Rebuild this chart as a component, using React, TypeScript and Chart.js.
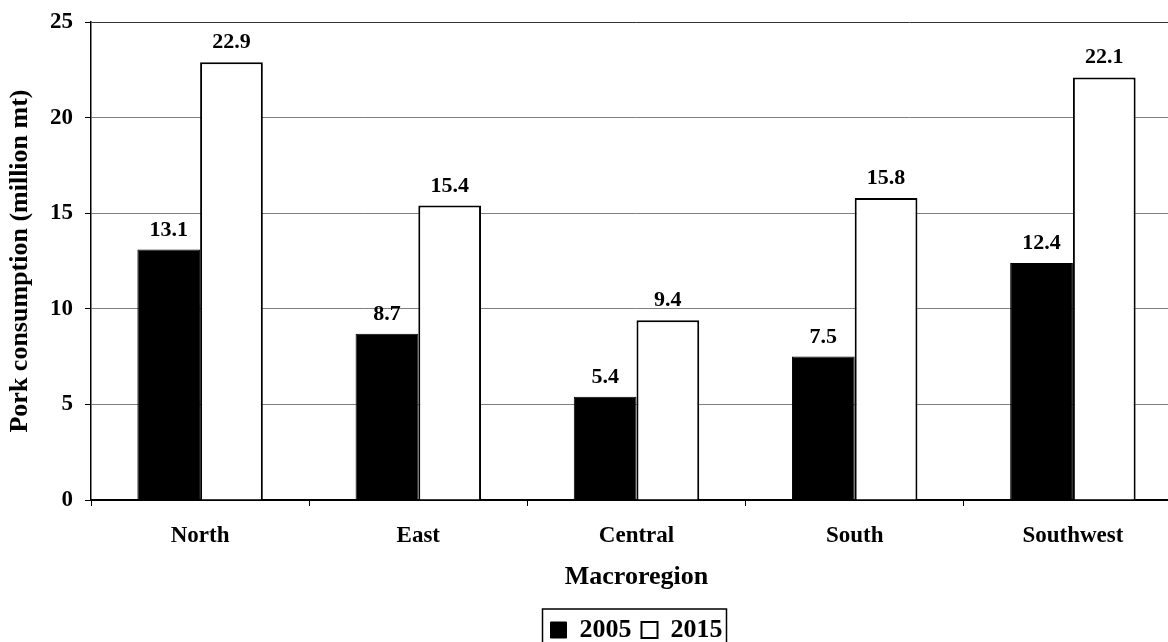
import React, { useEffect, useRef } from "react";
import { Chart, registerables } from "chart.js";

Chart.register(...registerables);

const categories = ["North", "East", "Central", "South", "Southwest"];
const series2005 = [13.1, 8.7, 5.4, 7.5, 12.4];
const series2015 = [22.9, 15.4, 9.4, 15.8, 22.1];
const seriesNames = ["2005", "2015"];
const yTicks = [0, 5, 10, 15, 20, 25];

const FONT = '"Liberation Serif", "Times New Roman", serif';

const dataLabelPlugin = {
  id: "dataLabels",
  afterDatasetsDraw(chart: any) {
    const ctx = chart.ctx;
    ctx.save();
    ctx.font = `bold 22px ${FONT}`;
    ctx.fillStyle = "#000";
    ctx.textAlign = "center";
    ctx.textBaseline = "alphabetic";
    chart.data.datasets.forEach((ds: any, i: number) => {
      const meta = chart.getDatasetMeta(i);
      meta.data.forEach((bar: any, j: number) => {
        ctx.fillText(ds.data[j].toFixed(1), bar.x, bar.y - 14);
      });
    });
    ctx.restore();
  },
};

const legendBoxPlugin = {
  id: "legendBox",
  afterLayout(chart: any) {
    const lg = chart.legend;
    if (lg && chart.chartArea) {
      lg.left = chart.chartArea.left;
      lg.right = chart.chartArea.right;
    }
  },
  afterDraw(chart: any) {
    const lg = chart.legend;
    if (!lg || !lg.legendHitBoxes || !lg.legendHitBoxes.length) return;
    const boxes = lg.legendHitBoxes;
    const left = Math.min(...boxes.map((b: any) => b.left)) - 8;
    const right = Math.max(...boxes.map((b: any) => b.left + b.width)) + 4;
    const top = Math.min(...boxes.map((b: any) => b.top)) - 8;
    const bottom = Math.max(...boxes.map((b: any) => b.top + b.height)) + 8;
    const ctx = chart.ctx;
    ctx.save();
    ctx.strokeStyle = "#000";
    ctx.lineWidth = 1.5;
    ctx.strokeRect(left, top, right - left, bottom - top);
    ctx.restore();
  },
};

export default function App() {
  const ref = useRef<HTMLCanvasElement>(null);
  useEffect(() => {
    document.body.style.overflow = "hidden";
    const chart = new Chart(ref.current!, {
      type: "bar",
      data: {
        labels: categories,
        datasets: [
          {
            label: seriesNames[0],
            data: series2005,
            backgroundColor: "#000",
            borderColor: "#000",
            borderWidth: 1,
          },
          {
            label: seriesNames[1],
            data: series2015,
            backgroundColor: "#fff",
            borderColor: "#000",
            borderWidth: 2,
          },
        ],
      },
      options: {
        animation: false,
        responsive: true,
        maintainAspectRatio: false,
        layout: { padding: { top: 22, right: 4, left: 0, bottom: 0 } },
        datasets: { bar: { barPercentage: 1, categoryPercentage: 0.575 } },
        plugins: {
          legend: {
            position: "bottom",
            labels: {
              font: { family: FONT, size: 26, weight: "bold" },
              color: "#000",
              boxWidth: 16,
              boxHeight: 16,
              padding: 10,
            },
          },
          tooltip: { enabled: false },
        },
        scales: {
          x: {
            offset: true,
            afterFit(scale: any) {
              scale.height = 107;
            },
            grid: {
              offset: true,
              drawOnChartArea: false,
              drawTicks: true,
              tickLength: 6,
              color: "#000",
            },
            border: { color: "#000", width: 2 },
            ticks: {
              font: { family: FONT, size: 23, weight: "bold" },
              color: "#000",
              padding: 16,
            },
            title: {
              display: true,
              text: "Macroregion",
              font: { family: FONT, size: 26, weight: "bold" },
              color: "#000",
              padding: { top: 0, bottom: 14 },
            },
          },
          y: {
            min: 0,
            max: 25,
            afterFit(scale: any) {
              scale.width = 91;
              scale.paddingTop = 0;
              scale.paddingBottom = 0;
            },
            afterBuildTicks(scale: any) {
              scale.ticks = yTicks.map((v) => ({ value: v }));
            },
            grid: {
              color: (c: any) => (c.tick && c.tick.value === 25 ? "#333" : "#808080"),
              lineWidth: 1,
              tickLength: 6,
              tickColor: "#000",
            },
            border: { color: "#000", width: 1.5 },
            ticks: {
              font: { family: FONT, size: 23, weight: "bold" },
              color: "#000",
              padding: 12,
            },
            title: {
              display: true,
              text: "Pork consumption (million mt)",
              font: { family: FONT, size: 26, weight: "bold" },
              color: "#000",
              padding: { top: 5, bottom: 0 },
            },
          },
        },
      },
      plugins: [dataLabelPlugin, legendBoxPlugin],
    });
    return () => chart.destroy();
  }, []);
  return (
    <div style={{ position: "fixed", left: 0, top: 0, width: 1186, height: 653, background: "#fff" }}>
      <canvas ref={ref} />
    </div>
  );
}
